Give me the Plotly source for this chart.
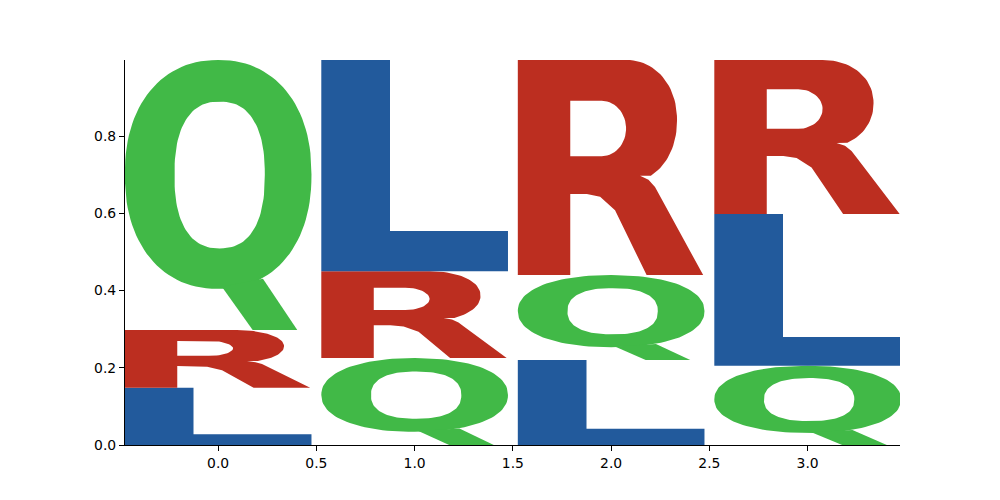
import numpy as np
import plotly.graph_objects as go

# stacked letter heights per position (bottom -> top)
positions = [0, 1, 2, 3]
stack_letters = [
    ["L", "R", "Q"],
    ["Q", "R", "L"],
    ["L", "Q", "R"],
    ["Q", "L", "R"],
]
stack_heights = [
    [0.148, 0.150, 0.699],
    [0.225, 0.225, 0.547],
    [0.220, 0.220, 0.557],
    [0.205, 0.393, 0.399],
]
letter_colors = {"Q": "#41B947", "L": "#225A9C", "R": "#BC2E20"}
letter_width = 0.95


def superellipse(cx, cy, rx, ry, n, t):
    c, s = np.cos(t), np.sin(t)
    u = cx + rx * np.sign(c) * np.abs(c) ** (2 / n)
    v = cy + ry * np.sign(s) * np.abs(s) ** (2 / n)
    return list(u), list(v)


def glyph(letter):
    """outline(s) of a letter in a unit box, list of (u, v) paths"""
    if letter == "L":
        u = [0, 1, 1, 0.368, 0.368, 0, 0]
        v = [0, 0, 0.19, 0.19, 1, 1, 0]
        return [(u, v)]
    if letter == "Q":
        t = np.linspace(0, 2 * np.pi, 121)
        ou, ov = superellipse(0.5, 0.576, 0.5, 0.424, 2.2, t)
        iu, iv = superellipse(0.508, 0.574, 0.242, 0.272, 2.4, -t)
        body = (ou + iu + [ou[0]], ov + iv + [ov[0]])
        tail = ([0.52, 0.685, 0.924, 0.74, 0.52], [0.16, 0, 0, 0.19, 0.16])
        return [body, tail]
    if letter == "R":
        u = [0, 0.281, 0.281, 0.37, 0.441, 0.521, 0.69, 0.993, 0.76, 0.735, 0.70, 0.655]
        v = [0, 0, 0.377, 0.377, 0.364, 0.302, 0, 0, 0.37, 0.41, 0.443, 0.462]
        lu, lv = superellipse(0.58, 0.72, 0.273, 0.29, 2.1,
                              np.linspace(np.radians(-62), 0, 20))
        tu, tv = superellipse(0.58, 0.72, 0.273, 0.28, 2.1,
                              np.linspace(0, np.pi / 2, 25))
        u += lu + tu + [0, 0]
        v += lv + tv + [1, 0]
        hu, hv = superellipse(0.45, 0.6815, 0.13, 0.1285, 2.0,
                              np.linspace(np.pi / 2, -np.pi / 2, 30))
        u += [0.281, 0.281] + hu + [0.281, 0]
        v += [0.553, 0.81] + hv + [0.553, 0]
        return [(u, v)]


fig = go.Figure()
for pos, letters, heights in zip(positions, stack_letters, stack_heights):
    bottom = 0.0
    for letter, h in zip(letters, heights):
        for u, v in glyph(letter):
            xs = [pos - letter_width / 2 + a * letter_width for a in u]
            ys = [bottom + b * h for b in v]
            fig.add_trace(go.Scatter(
                x=xs, y=ys, mode="lines", fill="toself",
                fillcolor=letter_colors[letter], line=dict(width=0),
                hoverinfo="skip", showlegend=False))
        bottom += h

axis_style = dict(
    showline=True, linecolor="black", linewidth=1.1, mirror=False,
    ticks="outside", ticklen=5, tickwidth=1, tickcolor="black",
    showgrid=False, zeroline=False,
    tickfont=dict(family="DejaVu Sans", size=13.9, color="black"),
)
fig.update_xaxes(range=[-0.474, 3.47], tickvals=[0, 0.5, 1, 1.5, 2, 2.5, 3],
                 tickformat=".1f", **axis_style)
fig.update_yaxes(range=[0, 0.997], tickvals=[0, 0.2, 0.4, 0.6, 0.8],
                 tickformat=".1f", **axis_style)
# page body has an 8px margin, so shift the plot area up/left by that much
fig.update_layout(
    width=1000, height=500, autosize=False,
    margin=dict(l=117, r=108, t=52, b=63),
    plot_bgcolor="white", paper_bgcolor="white",
)
fig.write_html("out.html")
